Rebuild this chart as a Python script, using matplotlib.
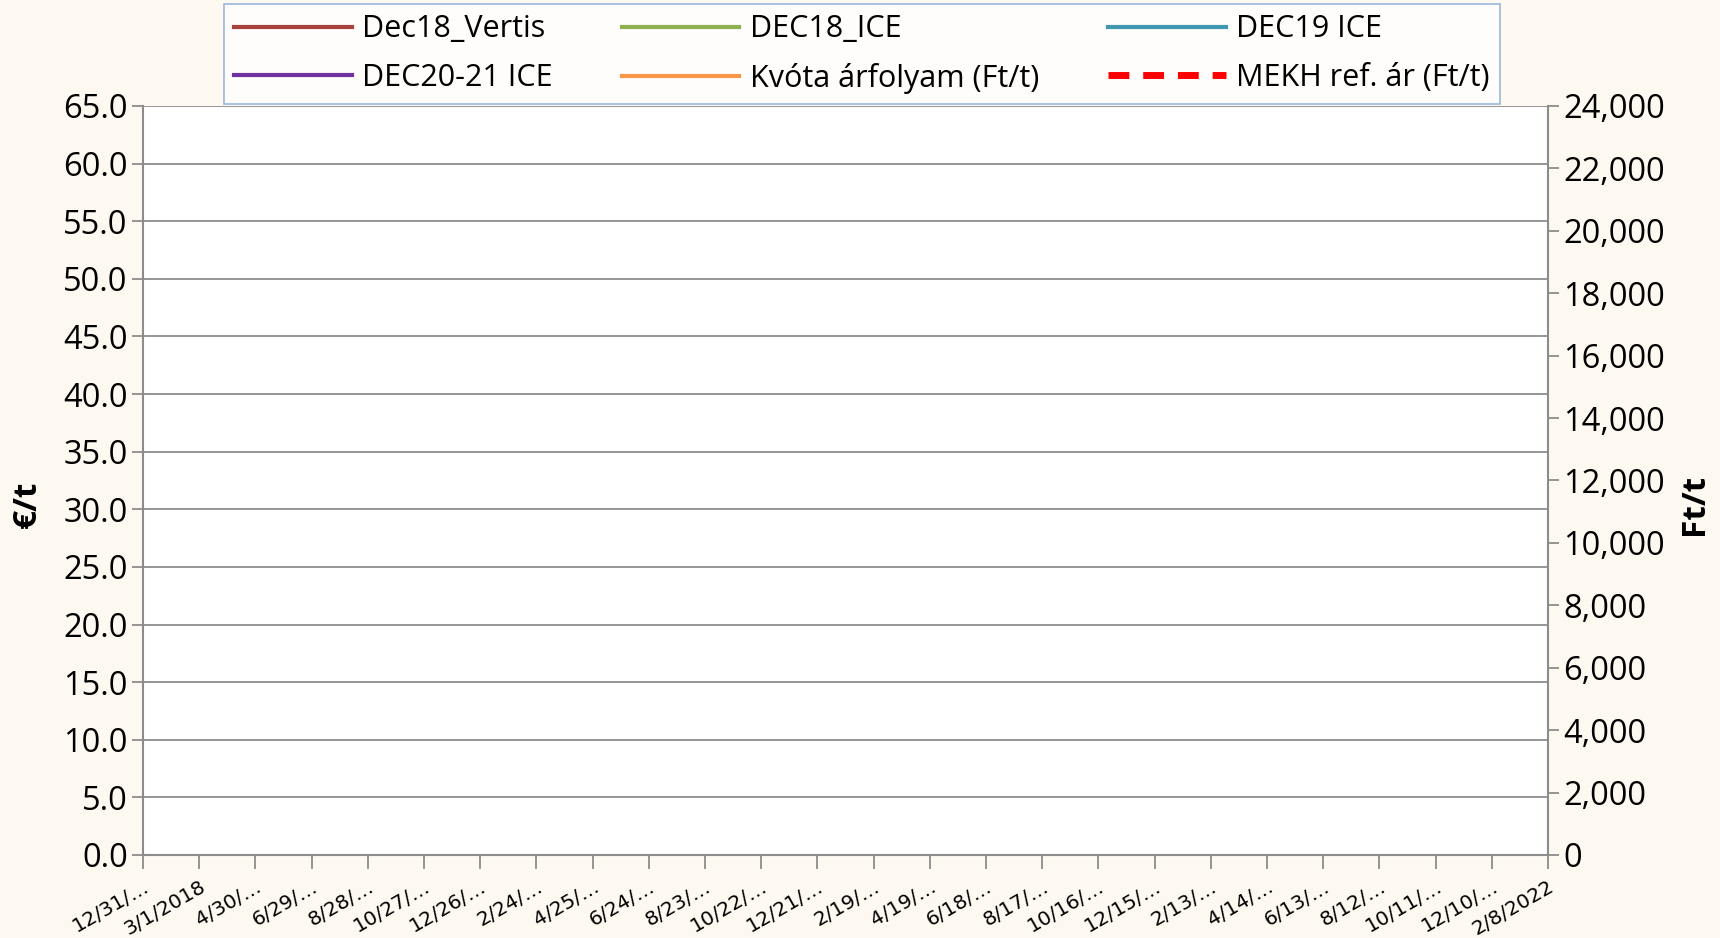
import matplotlib
matplotlib.use("Agg")
import numpy as np
import pandas as pd
from matplotlib import pyplot as plt
from matplotlib.lines import Line2D
from matplotlib.ticker import FuncFormatter

# chart data (the source chart shows no plotted values)
series_names = ["Dec18_Vertis", "DEC18_ICE", "DEC19 ICE", "DEC20-21 ICE",
                "Kvóta árfolyam (Ft/t)", "MEKH ref. ár (Ft/t)"]
series_colors = ["#A8423F", "#8FB04F", "#3F97B0", "#7030A0", "#F79646", "#FF0000"]
dates = []
dec18_vertis = []
dec18_ice = []
dec19_ice = []
dec20_21_ice = []
kvota_arfolyam = []
mekh_ref_ar = []

tick_dates = pd.date_range("2017-12-31", "2022-02-08", freq="60D")


def short_label(d):
    full = "%d/%d/%d" % (d.month, d.day, d.year)
    if len(full) > 8:
        return "%d/%d/…" % (d.month, d.day)
    return full


tick_labels = [short_label(d) for d in tick_dates]

BG = "#FDF8F0"
GRID = "#8C8C8C"

fig = plt.figure(figsize=(17.2, 9.38), dpi=100, facecolor=BG)
ax = fig.add_axes([0.0831, 0.0885, 0.8169, 0.7985])
ax.set_facecolor("white")
ax2 = ax.twinx()

ax.plot(dates, dec18_vertis, color=series_colors[0], lw=3)
ax.plot(dates, dec18_ice, color=series_colors[1], lw=3)
ax.plot(dates, dec19_ice, color=series_colors[2], lw=3)
ax.plot(dates, dec20_21_ice, color=series_colors[3], lw=3)
ax2.plot(dates, kvota_arfolyam, color=series_colors[4], lw=3)
ax2.plot(dates, mekh_ref_ar, color=series_colors[5], lw=4, ls=(0, (3, 2)))

ax.set_xlim(tick_dates[0], tick_dates[-1])
ax.set_ylim(0, 65)
ax2.set_ylim(0, 24000)
ax.set_yticks(np.arange(0, 65.1, 5))
ax2.set_yticks(np.arange(0, 24001, 2000))
ax.yaxis.set_major_formatter(FuncFormatter(lambda v, p: "%.1f" % v))
ax2.yaxis.set_major_formatter(FuncFormatter(lambda v, p: "{:,.0f}".format(v)))

ax.set_xticks(tick_dates)
ax.set_xticklabels(tick_labels, rotation=30, ha="right", rotation_mode="anchor",
                   fontsize=14.5, family="Liberation Sans Narrow")

ax.grid(axis="y", color=GRID, lw=1.3)
ax.set_axisbelow(True)
for a in (ax, ax2):
    for s in ("top", "right", "left", "bottom"):
        a.spines[s].set_visible(False)
ax.spines["left"].set_visible(True)
ax.spines["bottom"].set_visible(True)
ax2.spines["right"].set_visible(True)
for sp in (ax.spines["left"], ax.spines["bottom"], ax2.spines["right"]):
    sp.set_color(GRID)
    sp.set_linewidth(1.5)

ax.tick_params(axis="y", length=8, width=1.3, color=GRID, labelsize=23.5, pad=3)
ax.tick_params(axis="x", length=10, width=1.3, color=GRID, pad=6)
ax2.tick_params(axis="y", length=8, width=1.3, color=GRID, labelsize=23.5, pad=3)
for lab in ax.get_yticklabels() + ax2.get_yticklabels():
    lab.set_family("Open Sans")

fig.text(0.016, 0.462, "€/t", rotation=90, fontsize=24, fontweight="bold",
         ha="center", va="center", family="Open Sans")
fig.text(0.985, 0.462, "Ft/t", rotation=90, fontsize=24, fontweight="bold",
         ha="center", va="center", family="Open Sans")

handles = [Line2D([], [], color=c, lw=3) for c in series_colors[:5]]
handles.append(Line2D([], [], color=series_colors[5], lw=5, ls=(0, (3, 2))))
order = [0, 3, 1, 4, 2, 5]
leg = fig.legend([handles[i] for i in order], [series_names[i] for i in order],
                 ncol=3, loc="upper left", bbox_to_anchor=(0.130, 0.996, 0.742, 0.0),
                 mode="expand", handlelength=3.85, handletextpad=0.33, columnspacing=0.9,
                 borderaxespad=0, borderpad=0.35, labelspacing=0.6,
                 frameon=True, fancybox=False,
                 prop={"family": "Open Sans", "size": 22})
leg.get_frame().set_edgecolor("#7FA6D6")
leg.get_frame().set_linewidth(1.2)
leg.get_frame().set_facecolor("white")

fig.savefig("out.png", dpi=100, facecolor=BG)
